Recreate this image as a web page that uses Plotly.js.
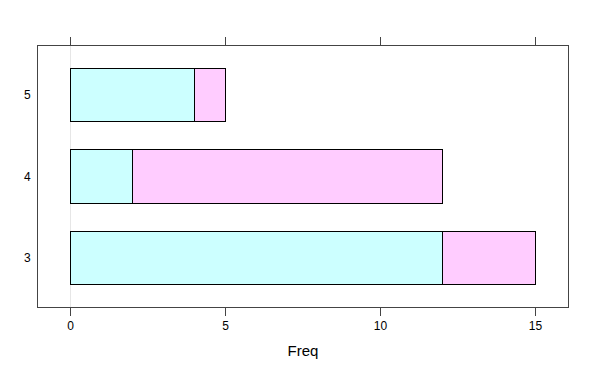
<!DOCTYPE html>
<html>
<head>
<meta charset="utf-8">
<script src="https://cdn.plot.ly/plotly-3.0.1.min.js"></script>
<style>html,body{margin:0;padding:0;background:#fff;}#chart{width:600px;height:375px;}</style>
</head>
<body>
<div id="chart"></div>
<script>
const categories = [3, 4, 5];
const seriesA = [12, 2, 4];
const seriesB = [3, 10, 1];
const xTicks = [0, 5, 10, 15];

const traces = [
  {type: 'bar', orientation: 'h', y: categories, x: seriesA, width: 0.66,
   marker: {color: '#CCFFFF', line: {color: '#000000', width: 1}}, hoverinfo: 'none'},
  {type: 'bar', orientation: 'h', y: categories, x: seriesB, width: 0.66,
   marker: {color: '#FFCCFF', line: {color: '#000000', width: 1}}, hoverinfo: 'none'}
];

const layout = {
  width: 600, height: 375,
  margin: {l: 38, r: 32, t: 46, b: 68},
  barmode: 'stack',
  showlegend: false,
  paper_bgcolor: '#ffffff', plot_bgcolor: '#ffffff',
  font: {family: 'Liberation Sans, Arial, sans-serif', size: 12, color: '#000000'},
  xaxis: {
    range: [-1.05, 16.05], tickvals: xTicks, ticktext: xTicks.map(String),
    ticks: 'outside', ticklen: 8, tickcolor: '#444444', tickwidth: 1,
    showgrid: false, zeroline: false,
    showline: true, linecolor: '#444444', linewidth: 1, mirror: 'ticks',
    title: {text: 'Freq', font: {size: 15, color: '#000000'}, standoff: 13}
  },
  yaxis: {
    type: 'linear',
    range: [2.4, 5.6], tickvals: categories, ticktext: categories.map(String),
    ticks: '', showgrid: false, zeroline: false,
    showline: true, linecolor: '#444444', linewidth: 1, mirror: true,
    ticklabelstandoff: 4
  },
  shapes: [
    {type: 'line', layer: 'below', xref: 'x', yref: 'paper', x0: 0, x1: 0, y0: 0, y1: 1,
     line: {color: '#E6E6E6', width: 1}}
  ]
};

Plotly.newPlot('chart', traces, layout, {staticPlot: true});
</script>
</body>
</html>
